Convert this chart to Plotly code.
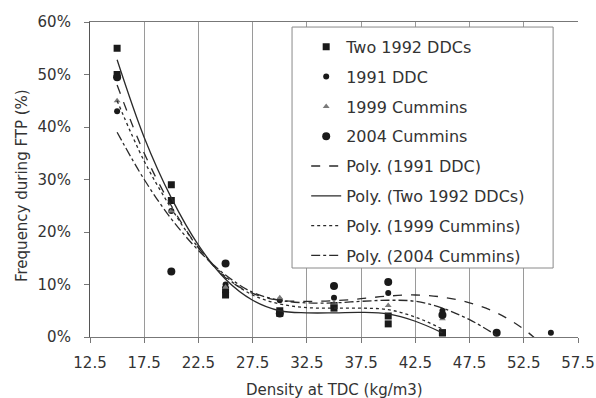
import plotly.graph_objects as go

# Frequency during FTP (%) versus density at TDC (kg/m3)
ddc92_x = [15, 15, 20, 20, 25, 25, 30, 30, 35, 35, 40, 40, 45, 45]
ddc92_y = [55, 50, 29, 26, 9, 8, 5, 4.5, 6, 5.5, 4, 2.5, 0.8, 0.8]

ddc91_x = [15, 20, 25, 30, 35, 40, 45, 55]
ddc91_y = [43, 24, 10, 7, 7.5, 8.4, 5, 0.8]

cum99_x = [15, 20, 25, 30, 35, 40, 45]
cum99_y = [45, 24, 9.5, 7.5, 6.5, 6, 3.5]

cum04_x = [15, 20, 25, 30, 35, 40, 45, 50]
cum04_y = [49.5, 12.5, 14, 4.5, 9.7, 10.5, 4.2, 0.8]

# Polynomial trendline values
fit_ddc91_x = [15, 17.5, 20, 22.5, 25, 27.5, 30, 32.5, 35, 37.5, 40, 42.5, 45, 47.5, 50, 52.5, 55]
fit_ddc91_y = [48, 35, 25, 17, 11.3, 8.3, 7, 6.8, 6.9, 7.3, 7.8, 8, 7.6, 6.5, 4.6, 1.5, -3]

fit_ddc92_x = [15, 17.5, 20, 22.5, 25, 27.5, 30, 32.5, 35, 37.5, 40, 42.5, 45]
fit_ddc92_y = [52.8, 38, 26.5, 17.5, 11, 7, 5, 4.6, 4.6, 4.7, 4.4, 3, 0.8]

fit_cum99_x = [15, 17.5, 20, 22.5, 25, 27.5, 30, 32.5, 35, 37.5, 40, 42.5, 45]
fit_cum99_y = [45, 33.5, 24.5, 17, 11.5, 8, 6.3, 5.6, 5.5, 5.5, 5.2, 3.8, 1.5]

fit_cum04_x = [15, 17.5, 20, 22.5, 25, 27.5, 30, 32.5, 35, 37.5, 40, 42.5, 45, 47.5, 50]
fit_cum04_y = [39, 30, 22.5, 16.5, 11.8, 8.5, 7, 6.5, 6.5, 6.8, 7, 6.8, 5.5, 3.3, 0.3]

x_ticks = [12.5, 17.5, 22.5, 27.5, 32.5, 37.5, 42.5, 47.5, 52.5, 57.5]
y_ticks = [0, 10, 20, 30, 40, 50, 60]

INK = "#1a1a1a"
TXT = "#333333"
FONT = "DejaVu Sans, Arial, sans-serif"

fig = go.Figure()

scatter_specs = [
    ("Two 1992 DDCs", ddc92_x, ddc92_y, dict(symbol="square", size=7, color=INK)),
    ("1991 DDC", ddc91_x, ddc91_y, dict(symbol="circle", size=6, color=INK)),
    ("1999 Cummins", cum99_x, cum99_y, dict(symbol="triangle-up", size=6, color="#7a7a7a")),
    ("2004 Cummins", cum04_x, cum04_y, dict(symbol="circle", size=8, color=INK)),
]
for i, (name, xs, ys, mk) in enumerate(scatter_specs):
    fig.add_trace(go.Scatter(
        x=xs, y=[v / 100 for v in ys], mode="markers", name=name,
        marker=mk, legendgroup=f"g{i}",
    ))

trend_specs = [
    ("Poly. (1991 DDC)", fit_ddc91_x, fit_ddc91_y, "dash"),
    ("Poly. (Two 1992 DDCs)", fit_ddc92_x, fit_ddc92_y, "solid"),
    ("Poly. (1999 Cummins)", fit_cum99_x, fit_cum99_y, "dot"),
    ("Poly. (2004 Cummins)", fit_cum04_x, fit_cum04_y, "dashdot"),
]
for i, (name, xs, ys, dash) in enumerate(trend_specs):
    fig.add_trace(go.Scatter(
        x=xs, y=[v / 100 for v in ys], mode="lines", name=name,
        line=dict(color="#2a2a2a", width=1.3, dash=dash, shape="spline", smoothing=1.0),
        legendgroup=f"t{i}",
    ))

fig.update_layout(
    width=596, height=398,
    margin=dict(l=90, r=18, t=22, b=61),
    paper_bgcolor="white", plot_bgcolor="white",
    font=dict(family=FONT, size=15, color=TXT),
    showlegend=True,
    legend=dict(
        x=0.443, y=0.975, xanchor="left", yanchor="top",
        bgcolor="rgba(0,0,0,0)", borderwidth=0,
        font=dict(family=FONT, size=16, color=TXT),
        tracegroupgap=6, itemwidth=30,
    ),
    shapes=[dict(
        type="rect", xref="paper", yref="paper",
        x0=0.414, x1=0.949, y0=0.219, y1=0.984,
        fillcolor="white", line=dict(color="#8a8a8a", width=1), layer="above",
    )],
    annotations=[
        dict(
            text="Frequency during FTP (%)", textangle=-90,
            xref="paper", yref="paper", x=-68 / 488, y=(337 - 186) / 315,
            xanchor="center", yanchor="middle", showarrow=False,
            font=dict(family=FONT, size=15, color=TXT),
        ),
        dict(
            text="Density at TDC (kg/m3)",
            xref="paper", yref="paper", x=(334 - 90) / 488, y=-(390 - 337) / 315,
            xanchor="center", yanchor="middle", showarrow=False,
            font=dict(family=FONT, size=15, color=TXT),
        ),
    ],
)

fig.update_xaxes(
    range=[12.5, 57.5], tickvals=x_ticks, ticktext=[f"{v:.1f}" for v in x_ticks],
    showgrid=True, gridcolor="#9a9a9a", gridwidth=1,
    showline=True, linecolor="#777777", linewidth=1, mirror=True,
    ticks="outside", ticklen=5, tickcolor="#777777", ticklabelstandoff=7,
    zeroline=False, automargin=False,
)
fig.update_yaxes(
    range=[0, 0.6], tickvals=[v / 100 for v in y_ticks], tickformat=".0%",
    showgrid=False, zeroline=False, automargin=False,
    showline=True, linecolor="#555555", linewidth=1.2,
    ticks="outside", ticklen=5, tickcolor="#777777", ticklabelstandoff=10,
)

fig.write_html("out.html")
